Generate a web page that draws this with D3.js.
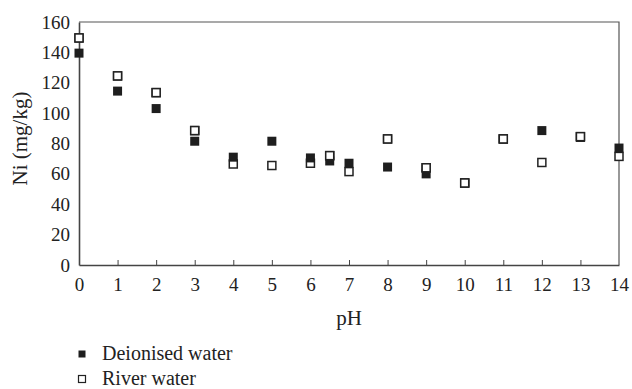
<!DOCTYPE html>
<html>
<head>
<meta charset="utf-8">
<script src="https://cdn.jsdelivr.net/npm/d3@7"></script>
<style>
  body { margin: 0; background: #fff; }
</style>
</head>
<body>
<svg id="chart" width="632" height="389"></svg>
<script>
// pH values where samples were taken
const phValues = [0, 1, 2, 3, 4, 5, 6, 6.5, 7, 8, 9, 10, 11, 12, 13, 14]
// Ni concentration (mg/kg)
const deionised = [139.5, 114.5, 103, 81.5, 71, 81.5, 70.5, 68.5, 67, 64.5, 60, 54, 83, 88.5, 84, 77]
const river = [149.5, 124.5, 113.5, 88.5, 66.5, 65.5, 67, 72, 61.5, 83, 64, 54, 83, 67.5, 84.5, 71.5]
const xTicks = d3.range(0, 15)
const yTicks = [0, 20, 40, 60, 80, 100, 120, 140, 160]

const FONT = '"Liberation Serif", "DejaVu Serif", serif'
const margin = { left: 79, right: 13, top: 22, bottom: 124 }
const width = 632 - margin.left - margin.right
const height = 389 - margin.top - margin.bottom

const svg = d3.select('#chart')
const g = svg.append('g').attr('transform', `translate(${margin.left},${margin.top})`)

const x = d3.scaleLinear().domain([0, 14]).range([0, width])
const y = d3.scaleLinear().domain([0, 160]).range([height, 0])

// frame (top and right)
g.append('path')
  .attr('d', `M0,0H${width}V${height}`)
  .attr('fill', 'none')
  .attr('stroke', '#555')
  .attr('stroke-width', 1.2)

// x axis with inward ticks
const xAxis = g.append('g').attr('class', 'xaxis')
  .attr('transform', `translate(0,${height})`)
  .call(d3.axisBottom(x).tickValues(xTicks).tickSizeInner(-5).tickSizeOuter(0).tickPadding(13))
xAxis.attr('font-family', FONT)
xAxis.select('.domain').attr('stroke', '#444').attr('stroke-width', 1.6)
xAxis.selectAll('.tick line').attr('stroke', '#444').attr('stroke-width', 1)
xAxis.selectAll('.tick line').filter(d => d === 0 || d === 14).remove()
xAxis.selectAll('.tick text').attr('font-size', 19).attr('fill', '#222')

// y axis without tick marks
const yAxis = g.append('g').attr('class', 'yaxis')
  .call(d3.axisLeft(y).tickValues(yTicks).tickSize(0).tickPadding(9))
yAxis.attr('font-family', FONT)
yAxis.select('.domain').attr('stroke', '#444').attr('stroke-width', 1.6)
yAxis.selectAll('.tick text').attr('font-size', 19).attr('fill', '#222')

// axis titles
svg.append('text')
  .attr('x', margin.left + width / 2)
  .attr('y', 325)
  .attr('text-anchor', 'middle')
  .attr('font-family', FONT)
  .attr('font-size', 21)
  .attr('fill', '#222')
  .text('pH')

svg.append('text')
  .attr('transform', `translate(27,${margin.top + height / 2 - 5}) rotate(-90)`)
  .attr('text-anchor', 'middle')
  .attr('font-family', FONT)
  .attr('font-size', 21)
  .attr('fill', '#222')
  .text('Ni (mg/kg)')

// markers: river drawn first, deionised on top where they overlap
const size = 8
g.selectAll('.river').data(phValues)
  .enter().append('rect')
  .attr('class', 'river')
  .attr('x', (d) => x(d) - size / 2)
  .attr('y', (d, i) => y(river[i]) - size / 2)
  .attr('width', size)
  .attr('height', size)
  .attr('fill', 'white')
  .attr('stroke', '#222')
  .attr('stroke-width', 1.5)

g.selectAll('.dei').data(phValues)
  .enter().append('rect')
  .attr('class', 'dei')
  .attr('x', (d) => x(d) - size / 2 - 0.5)
  .attr('y', (d, i) => y(deionised[i]) - size / 2 - 0.5)
  .attr('width', size + 1)
  .attr('height', size + 1)
  .attr('fill', '#1e1e1e')

// river markers that sit above deionised ones are redrawn on top
g.selectAll('.riverTop').data(phValues.filter((d, i) => river[i] >= deionised[i]))
  .enter().append('rect')
  .attr('x', (d) => x(d) - size / 2)
  .attr('y', (d) => y(river[phValues.indexOf(d)]) - size / 2)
  .attr('width', size)
  .attr('height', size)
  .attr('fill', 'white')
  .attr('stroke', '#222')
  .attr('stroke-width', 1.5)

// legend
const legendItems = [
  { label: 'Deionised water', filled: true },
  { label: 'River water', filled: false }
]
const legend = svg.append('g').attr('transform', 'translate(82,354)')
legendItems.forEach((item, i) => {
  const row = legend.append('g').attr('transform', `translate(0,${i * 25})`)
  row.append('rect')
    .attr('x', -3.5).attr('y', -3.5)
    .attr('width', 7).attr('height', 7)
    .attr('fill', item.filled ? '#1e1e1e' : 'white')
    .attr('stroke', item.filled ? 'none' : '#222')
    .attr('stroke-width', 1.2)
  row.append('text')
    .attr('x', 20).attr('y', 6)
    .attr('font-family', FONT)
    .attr('font-size', 20)
    .attr('fill', '#222')
    .text(item.label)
})
</script>
</body>
</html>
